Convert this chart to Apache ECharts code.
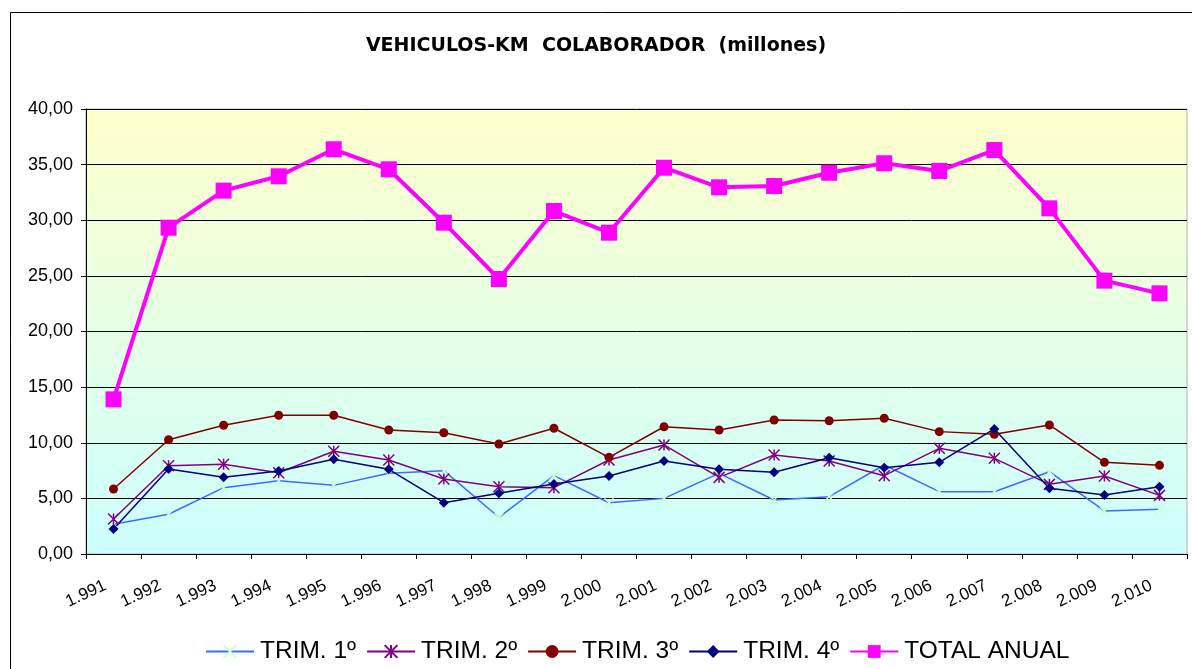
<!DOCTYPE html>
<html>
<head>
<meta charset="utf-8">
<script src="https://cdn.jsdelivr.net/npm/echarts@6/dist/echarts.min.js"></script>
<style>
  html, body { margin: 0; padding: 0; background: #fff; }
  #chart { width: 1192px; height: 669px; }
</style>
</head>
<body>
<div id="chart"></div>
<script>
// years on the category axis
var years = ['1.991', '1.992', '1.993', '1.994', '1.995', '1.996', '1.997', '1.998', '1.999', '2.000',
             '2.001', '2.002', '2.003', '2.004', '2.005', '2.006', '2.007', '2.008', '2.009', '2.010'];

var trim1 = [2.67, 3.57, 5.96, 6.59, 6.17, 7.25, 7.49, 3.30, 7.04, 4.61, 5.00, 7.25, 4.85, 5.15, 8.00, 5.60, 5.60, 7.40, 3.87, 4.02];
var trim2 = [3.15, 7.94, 8.06, 7.31, 9.23, 8.45, 6.74, 6.05, 5.96, 8.45, 9.80, 6.89, 8.90, 8.36, 7.04, 9.50, 8.60, 6.26, 7.01, 5.27];
var trim3 = [5.84, 10.27, 11.57, 12.47, 12.47, 11.15, 10.90, 9.89, 11.30, 8.69, 11.44, 11.15, 12.04, 11.98, 12.20, 11.00, 10.76, 11.60, 8.24, 7.97];
var trim4 = [2.25, 7.64, 6.89, 7.46, 8.51, 7.61, 4.61, 5.46, 6.29, 7.01, 8.36, 7.61, 7.34, 8.66, 7.76, 8.24, 11.24, 5.90, 5.30, 6.05];
var total = [13.90, 29.33, 32.66, 33.95, 36.38, 34.58, 29.78, 24.72, 30.83, 28.88, 34.72, 32.96, 33.08, 34.27, 35.12, 34.43, 36.31, 31.07, 24.57, 23.43];

var yTicks = [0, 5, 10, 15, 20, 25, 30, 35, 40];

var chartDom = document.getElementById('chart');
var myChart = echarts.init(chartDom, null, { renderer: 'canvas' });

var font = 'Liberation Sans, Arial, sans-serif';

var option = {
    animation: false,
    backgroundColor: '#ffffff',
    textStyle: { fontFamily: font },
    title: {
        text: 'VEHICULOS-KM  COLABORADOR  (millones)',
        left: 'center',
        top: 32,
        textStyle: { fontSize: 19, fontWeight: 'bold', color: '#000', fontFamily: 'DejaVu Sans, sans-serif' }
    },
    graphic: [
        {
            type: 'rect',
            shape: { x: 10.5, y: 12.5, width: 1200, height: 700 },
            style: { fill: 'none', stroke: '#000', lineWidth: 1 },
            silent: true
        }
    ],
    grid: {
        left: 86,
        right: 5,
        top: 109,
        bottom: 115,
        show: true,
        borderColor: '#b0b0b0',
        borderWidth: 1,
        backgroundColor: new echarts.graphic.LinearGradient(0, 0, 0, 1, [
            { offset: 0, color: '#ffffcc' },
            { offset: 1, color: '#ccffff' }
        ])
    },
    legend: {
        top: 634,
        left: 200,
        itemWidth: 48,
        itemHeight: 16,
        itemGap: 10,
        textStyle: { fontSize: 24.5, color: '#000', fontFamily: font, padding: [0, 0, 0, 1] },
        data: ['TRIM. 1º', 'TRIM. 2º', 'TRIM. 3º', 'TRIM. 4º', 'TOTAL ANUAL']
    },
    xAxis: {
        type: 'category',
        data: years,
        boundaryGap: true,
        axisLine: { lineStyle: { color: '#000', width: 1 } },
        axisTick: { show: true, length: 5, lineStyle: { color: '#000' } },
        axisLabel: {
            rotate: 25,
            fontSize: 17,
            color: '#000',
            margin: 27,
            padding: [0, 9, 0, 0],
            fontFamily: font
        }
    },
    yAxis: {
        type: 'value',
        min: 0,
        max: 40,
        interval: 5,
        axisLine: { show: true, lineStyle: { color: '#000', width: 1 } },
        axisTick: { show: true, length: 5, lineStyle: { color: '#000' } },
        splitLine: { show: true, lineStyle: { color: '#000', width: 1 } },
        axisLabel: {
            fontSize: 18,
            color: '#000',
            margin: 13,
            fontFamily: font,
            formatter: function (v) {
                if (yTicks.indexOf(v) < 0) return '';
                return v.toFixed(2).replace('.', ',');
            }
        }
    },
    series: [
        {
            name: 'TRIM. 1º',
            type: 'line',
            data: trim1,
            symbol: 'path://M0,0 L10,10 M10,0 L0,10',
            symbolSize: 9,
            lineStyle: { color: '#3a6cff', width: 1.5 },
            itemStyle: { color: '#ccffcc', borderColor: '#ccffcc', borderWidth: 1.5 }
        },
        {
            name: 'TRIM. 2º',
            type: 'line',
            data: trim2,
            symbol: 'path://M0,0 L10,10 M10,0 L0,10 M5,0 L5,10',
            symbolSize: 11,
            lineStyle: { color: '#800080', width: 1.5 },
            itemStyle: { color: '#800080', borderColor: '#800080', borderWidth: 1.5 }
        },
        {
            name: 'TRIM. 3º',
            type: 'line',
            data: trim3,
            symbol: 'circle',
            symbolSize: 9,
            lineStyle: { color: '#800000', width: 1.5 },
            itemStyle: { color: '#800000', borderWidth: 0 }
        },
        {
            name: 'TRIM. 4º',
            type: 'line',
            data: trim4,
            symbol: 'diamond',
            symbolSize: 10,
            lineStyle: { color: '#000080', width: 1.5 },
            itemStyle: { color: '#000080', borderWidth: 0 }
        },
        {
            name: 'TOTAL ANUAL',
            type: 'line',
            data: total,
            symbol: 'rect',
            symbolSize: 16,
            lineStyle: { color: '#ff00ff', width: 4 },
            itemStyle: { color: '#ff00ff', borderWidth: 0 }
        }
    ]
};

option && myChart.setOption(option);
</script>
</body>
</html>
